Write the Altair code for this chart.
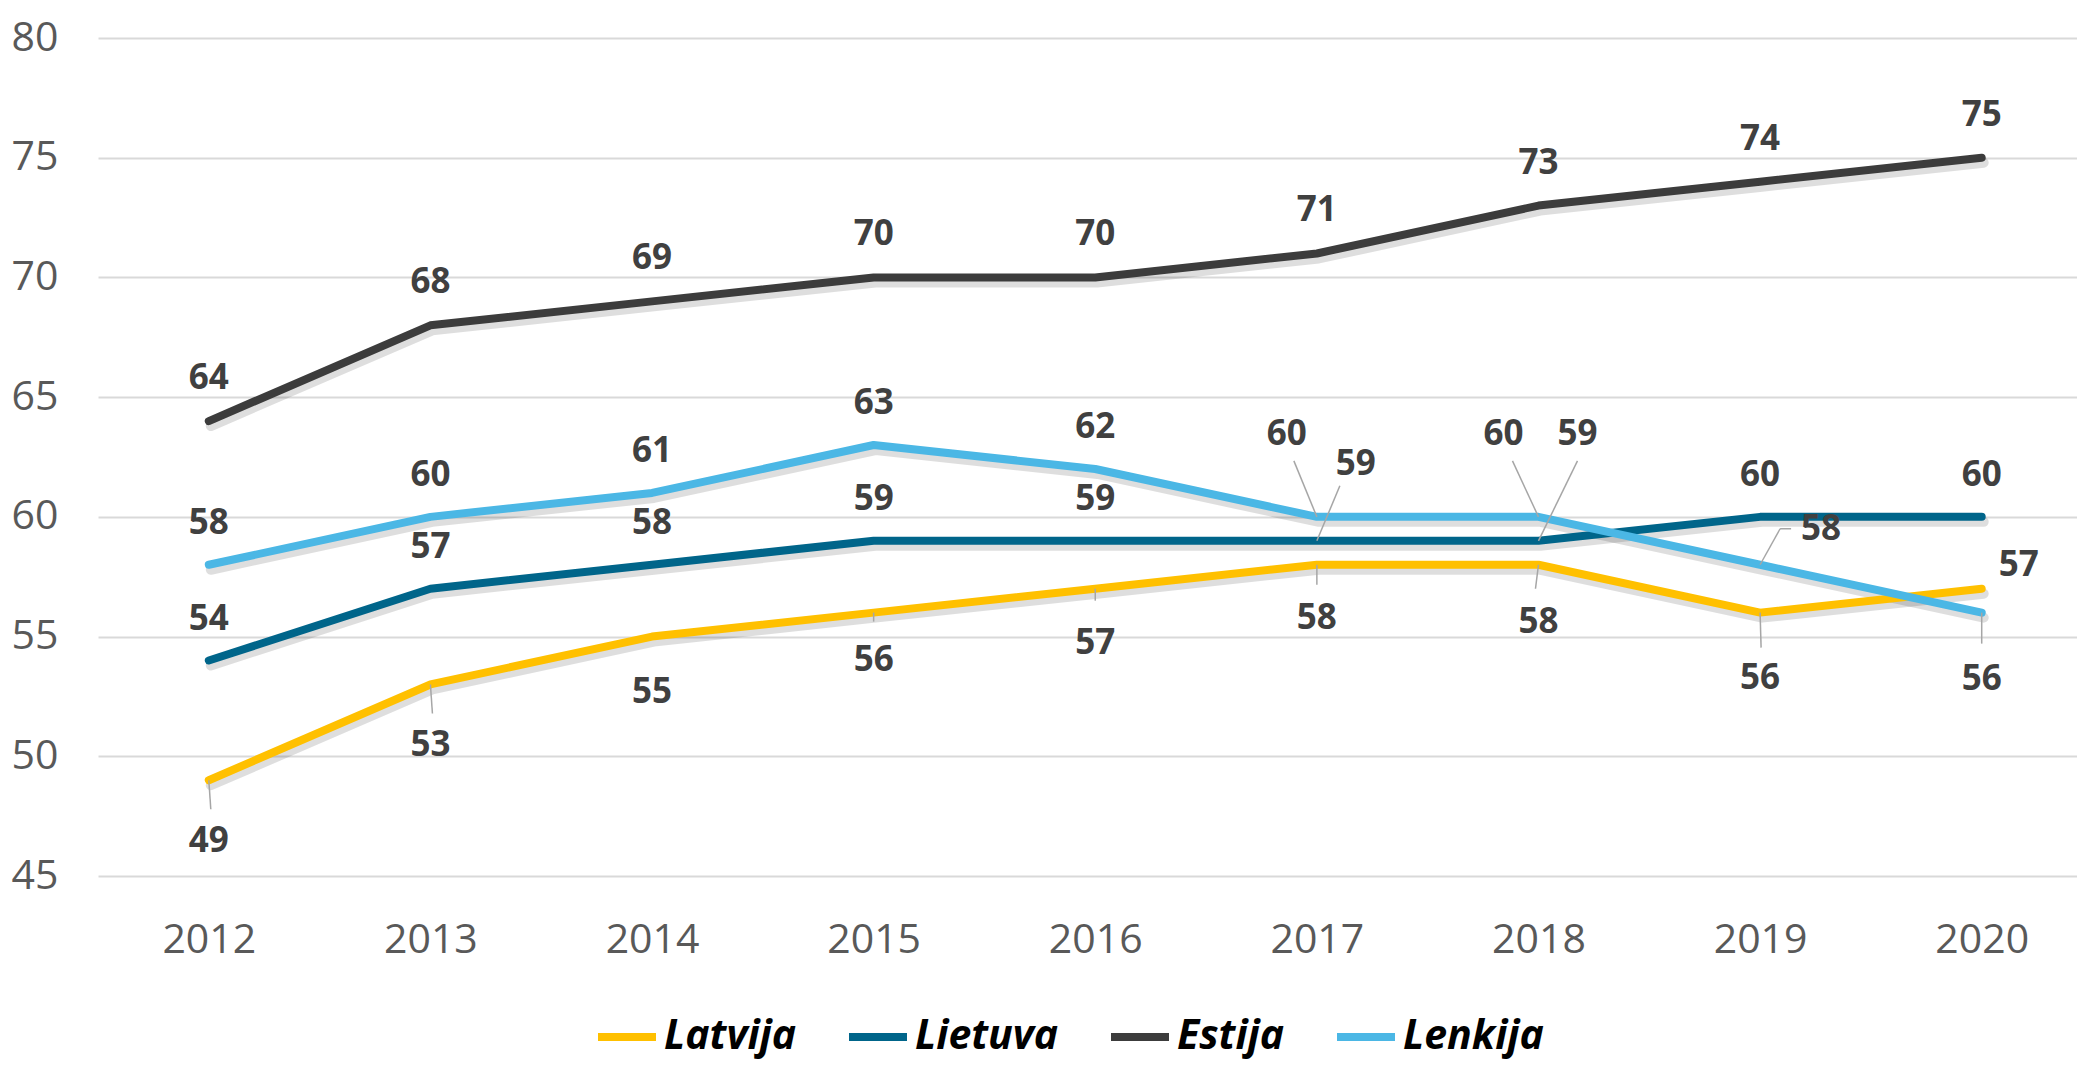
import altair as alt
import pandas as pd

# ---- data ----
years = [2012, 2013, 2014, 2015, 2016, 2017, 2018, 2019, 2020]
series_names = ["Latvija", "Lietuva", "Estija", "Lenkija"]
series_colors = ["#FFC000", "#00658A", "#3C3C3C", "#4BB7E5"]
latvija = [49, 53, 55, 56, 57, 58, 58, 56, 57]
lietuva = [54, 57, 58, 59, 59, 59, 59, 60, 60]
estija = [64, 68, 69, 70, 70, 71, 73, 74, 75]
lenkija = [58, 60, 61, 63, 62, 60, 60, 58, 56]
values = {"Latvija": latvija, "Lietuva": lietuva, "Estija": estija, "Lenkija": lenkija}
y_ticks = [45, 50, 55, 60, 65, 70, 75, 80]

# ---- layout (pixel offsets of data labels from their points) ----
W, H = 1979, 838
X_DOMAIN = [2011.5, 2020.43]
Y_DOMAIN = [45, 80]
ux = W / (X_DOMAIN[1] - X_DOMAIN[0])
uy = H / (Y_DOMAIN[1] - Y_DOMAIN[0])

label_offsets = {
    "Latvija": [(0, 61), (0, 61), (0, 55), (0, 47), (0, 54), (0, 53), (0, 57), (0, 65), (37, -24)],
    "Lietuva": [(0, -42)] * 5 + [(39, -77), (39, -107), (0, -42), (0, -42)],
    "Estija": [(0, -43)] * 9,
    "Lenkija": [(0, -42)] * 5 + [(-30, -83), (-35, -83), (61, -36), (0, 66)],
}
# leader lines: (series, index, list of pixel points relative to data point)
leaders = [
    ("Latvija", 0, [(0, 0), (2, 29)]),
    ("Latvija", 1, [(0, 0), (2, 29)]),
    ("Latvija", 3, [(0, 0), (0, 9)]),
    ("Latvija", 4, [(0, 0), (0, 12)]),
    ("Latvija", 5, [(0, 0), (0, 20)]),
    ("Latvija", 6, [(0, 0), (-3, 24)]),
    ("Latvija", 7, [(0, 0), (1, 35)]),
    ("Lietuva", 5, [(0, 0), (23, -55)]),
    ("Lietuva", 6, [(0, 0), (39, -80)]),
    ("Lenkija", 5, [(0, 0), (-23, -56)]),
    ("Lenkija", 6, [(0, 0), (-26, -56)]),
    ("Lenkija", 7, [(0, 0), (20, -36), (31, -36)]),
    ("Lenkija", 8, [(0, 0), (0, 31)]),
]

rows, lbl_rows, lead_rows = [], [], []
for s in series_names:
    for i, yr in enumerate(years):
        v = values[s][i]
        rows.append({"series": s, "year": yr, "value": v})
        dx, dy = label_offsets[s][i]
        lbl_rows.append({"series": s, "lx": yr + dx / ux, "ly": v - dy / uy, "text": str(v)})
for s, i, pts in leaders:
    yr, v = years[i], values[s][i]
    for (ax, ay), (bx, by) in zip(pts[:-1], pts[1:]):
        lead_rows.append({
            "x1": yr + ax / ux, "y1": v - ay / uy,
            "x2": yr + bx / ux, "y2": v - by / uy,
        })

df = pd.DataFrame(rows)
df_lbl = pd.DataFrame(lbl_rows)
df_lead = pd.DataFrame(lead_rows)

FONT = "Open Sans"
xscale = alt.Scale(domain=X_DOMAIN, nice=False, zero=False)
yscale = alt.Scale(domain=Y_DOMAIN, nice=False, zero=False)

x_axis = alt.Axis(values=years, format="d", title=None, grid=False, domain=False, ticks=False,
                  labelPadding=44, labelFontSize=41, labelColor="#595959", labelFont=FONT)
y_axis = alt.Axis(values=y_ticks, title=None, domain=False, ticks=False, grid=True,
                  gridColor="#D9D9D9", gridWidth=2, labelPadding=40, labelFontSize=41,
                  labelColor="#595959", labelFont=FONT)

shadow = alt.Chart(df).mark_line(
    strokeWidth=10, color="#000000", opacity=0.13, xOffset=2, yOffset=5,
    strokeCap="round", strokeJoin="round"
).encode(
    x=alt.X("year:Q", scale=xscale, axis=x_axis),
    y=alt.Y("value:Q", scale=yscale, axis=y_axis),
    detail="series:N",
)

lines = alt.Chart(df).mark_line(strokeWidth=8, strokeCap="round", strokeJoin="round").encode(
    x=alt.X("year:Q", scale=xscale, title=None),
    y=alt.Y("value:Q", scale=yscale, title=None),
    color=alt.Color(
        "series:N",
        scale=alt.Scale(domain=series_names, range=series_colors),
        sort=series_names,
        legend=alt.Legend(
            title=None, orient="none", direction="horizontal", legendX=496, legendY=966,
            symbolType="stroke", symbolStrokeWidth=8, symbolSize=3364,
            labelFont=FONT, labelFontSize=41, labelFontWeight="bold", labelFontStyle="italic",
            labelColor="#000000", labelOffset=4, columnPadding=36, padding=0, labelLimit=500,
        ),
    ),
)

leader_layer = alt.Chart(df_lead).mark_rule(color="#A6A6A6", strokeWidth=1.5).encode(
    x=alt.X("x1:Q", scale=xscale, title=None),
    y=alt.Y("y1:Q", scale=yscale, title=None),
    x2="x2:Q",
    y2="y2:Q",
)

labels = alt.Chart(df_lbl).mark_text(
    font=FONT, fontSize=35, fontWeight="bold", color="#404040", align="center", baseline="middle"
).encode(
    x=alt.X("lx:Q", scale=xscale, title=None),
    y=alt.Y("ly:Q", scale=yscale, title=None),
    text="text:N",
)

chart = alt.layer(shadow, lines, leader_layer, labels).properties(
    width=W, height=H,
    autosize=alt.AutoSizeParams(type="none"),
    padding={"left": 90, "top": 30, "right": 0, "bottom": 184},
).configure_view(stroke=None)

chart.save("out.html", embed_options={"renderer": "svg", "actions": False})
